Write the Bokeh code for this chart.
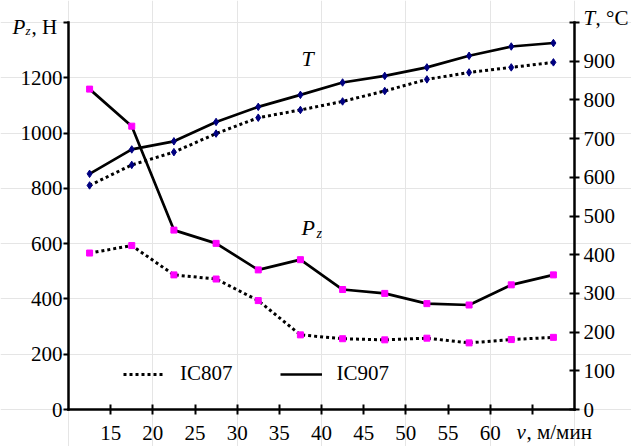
from bokeh.plotting import figure
from bokeh.models import (Range1d, LinearAxis, FixedTicker, Label, Legend, LegendItem)
from bokeh.embed import file_html
from bokeh.resources import INLINE

# ---- data ----
v = [12.5, 17.5, 22.5, 27.5, 32.5, 37.5, 42.5, 47.5, 52.5, 57.5, 62.5, 67.5]
x_ticks = [15, 20, 25, 30, 35, 40, 45, 50, 55, 60, 65]
x_tick_labels = ["15", "20", "25", "30", "35", "40", "45", "50", "55", "60", ""]
pz_ticks = [0, 200, 400, 600, 800, 1000, 1200, 1400]
t_ticks = [0, 100, 200, 300, 400, 500, 600, 700, 800, 900, 1000]

T_IC807 = [579, 632, 665, 713, 754, 774, 796, 823, 853, 871, 884, 897]
T_IC907 = [609, 672, 693, 743, 782, 813, 845, 862, 884, 914, 938, 947]
Pz_IC807 = [566, 593, 487, 472, 394, 270, 256, 252, 258, 241, 253, 261]
Pz_IC907 = [1159, 1025, 649, 601, 505, 542, 434, 420, 383, 378, 451, 487]

series_names = ["IC807", "IC907"]

# ---- layout (canvas pixels) ----
W, H = 631, 446
AX_L, AX_R, AX_T, AX_B = 68, 574, 22, 409     # where the axes sit on the canvas
X0, X1 = 10, 70
P0, P1 = 0, 1400
T0, T1 = 0, 1000

kx = (AX_R - AX_L) / (X1 - X0)
kp = (AX_B - AX_T) / (P1 - P0)
kt = (AX_B - AX_T) / (T1 - T0)

x_range = Range1d(X0 - AX_L / kx, X1 + (W - AX_R) / kx)
y_range = Range1d(P0 - (H - AX_B) / kp, P1 + AX_T / kp)
t_range = Range1d(T0 - (H - AX_B) / kt, T1 + AX_T / kt)

def px_x(px):
    return X0 + (px - AX_L) / kx

def px_p(py):
    return P0 + (AX_B - py) / kp

def px_t(py):
    return T0 + (AX_B - py) / kt

FONT = "Liberation Serif"
FS = "21px"

p = figure(width=W, height=H, output_backend="svg", toolbar_location=None,
           x_range=x_range, y_range=y_range,
           x_axis_location=None, y_axis_location=None,
           min_border=0, min_border_left=0, min_border_right=0,
           min_border_top=0, min_border_bottom=0)
p.extra_y_ranges = {"T": t_range}
p.outline_line_color = None
p.background_fill_color = "white"
p.border_fill_color = "white"

def style_axis(ax):
    ax.axis_line_width = 2.5
    ax.axis_line_color = "black"
    ax.axis_line_cap = "square"
    ax.major_tick_line_width = 2
    ax.major_tick_line_color = "black"
    ax.minor_tick_line_color = None
    ax.major_label_text_font = FONT
    ax.major_label_text_font_size = FS
    ax.major_label_text_color = "black"

xa = LinearAxis(fixed_location=P0, bounds=(X0, X1))
style_axis(xa)
xa.ticker = FixedTicker(ticks=x_ticks)
xa.major_label_overrides = {t: l for t, l in zip(x_ticks, x_tick_labels)}
xa.major_tick_in = 5
xa.major_tick_out = 5
xa.major_label_standoff = 11
p.add_layout(xa, "below")

ya = LinearAxis(fixed_location=X0, bounds=(P0, P1))
style_axis(ya)
ya.ticker = FixedTicker(ticks=pz_ticks)
ya.major_label_overrides = {P1: ""}
ya.major_tick_in = 0
ya.major_tick_out = 5
ya.major_label_standoff = 1
p.add_layout(ya, "left")

ra = LinearAxis(y_range_name="T", fixed_location=X1, bounds=(T0, T1))
style_axis(ra)
ra.ticker = FixedTicker(ticks=t_ticks)
ra.major_label_overrides = {T1: ""}
ra.major_tick_in = 5
ra.major_tick_out = 5
ra.major_label_standoff = 4
p.add_layout(ra, "right")

# ---- lines ----
r_t807 = p.line(v, T_IC807, y_range_name="T", line_color="black", line_width=3,
                line_dash="3 3")
r_t907 = p.line(v, T_IC907, y_range_name="T", line_color="black", line_width=2.7)
p.line(v, Pz_IC807, line_color="black", line_width=3, line_dash="3 3")
p.line(v, Pz_IC907, line_color="black", line_width=2.7)

# ---- markers ----
p.scatter(v, T_IC807, y_range_name="T", marker="diamond", size=7.5, color="#000080")
p.scatter(v, T_IC907, y_range_name="T", marker="diamond", size=7.5, color="#000080")
p.scatter(v, Pz_IC807, marker="square", size=6, color="#FF00FF")
p.scatter(v, Pz_IC907, marker="square", size=6, color="#FF00FF")

# ---- legend ----
leg = Legend(items=[LegendItem(label=series_names[0], renderers=[r_t807]),
                    LegendItem(label=series_names[1], renderers=[r_t907])],
             orientation="horizontal", location=(123, 60),
             label_text_font=FONT, label_text_font_size=FS, label_text_color="black",
             glyph_width=42, label_standoff=15, spacing=47,
             padding=0, margin=0, border_line_color=None,
             background_fill_alpha=0)
p.add_layout(leg, "center")

# ---- text labels (py = baseline on the canvas, corrected for Bokeh's offset) ----
SHIFT = 10
def lab(px, py, text, style="normal", size=FS, yr="default"):
    py = py - SHIFT
    y = px_t(py) if yr == "T" else px_p(py)
    p.add_layout(Label(x=px_x(px), y=y, text=text, y_range_name=yr,
                       text_font=FONT, text_font_size=size, text_font_style=style,
                       text_align="left", text_baseline="alphabetic", text_color="black"))

# left axis title: P_z, Н
lab(12, 36, "P", "italic")
lab(25, 40, "z", "italic", "13px")
lab(31, 36, ", Н")
# right axis title: T, °C
lab(583, 27, "T", "italic", yr="T")
lab(595, 27, ", °C", yr="T")
# x axis title: v, м/мин
lab(516, 441, "v", "italic")
lab(526, 441, ", м/мин")
# curve labels
lab(301, 68, "T", "italic", "22px", yr="T")
lab(301, 237, "P", "italic", "22px")
lab(316, 243, "z", "italic", "14px")

open("out.html", "w").write(file_html(p, INLINE))
